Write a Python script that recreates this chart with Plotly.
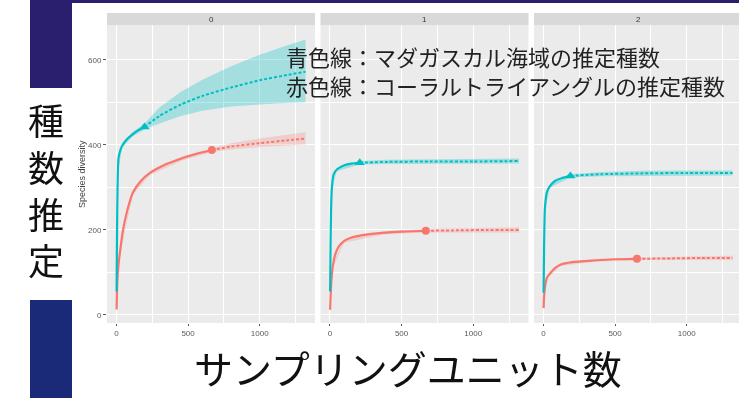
import plotly.graph_objects as go

W, H = 739, 398

# Facet labels (order q = 0, 1, 2)
facet_labels = ["0", "1", "2"]
x_ticks = [0, 500, 1000]
y_ticks = [0, 200, 400, 600]

# ---- Madagascar (cyan) ----
mad_q0_int_t = [1, 3, 6, 10, 15, 25, 40, 70, 110, 150, 196]
mad_q0_int_d = [55, 150, 260, 340, 370, 385, 398, 412, 424, 434, 442]
mad_q0_ext_t = [196, 300, 450, 600, 800, 1000, 1200, 1320]
mad_q0_ext_d = [442, 468, 495, 515, 535, 552, 565, 572]
mad_q0_band_t = [1, 10, 40, 110, 196, 300, 450, 600, 800, 1000, 1200, 1320]
mad_q0_band_lo = [53, 335, 393, 419, 436, 450, 468, 480, 490, 495, 499, 500]
mad_q0_band_hi = [57, 345, 403, 430, 450, 488, 525, 553, 585, 612, 635, 648]

mad_q1_int_t = [1, 4, 8, 14, 25, 48, 100, 150, 208]
mad_q1_int_d = [55, 160, 250, 300, 330, 342, 352, 356, 358]
mad_q1_ext_t = [208, 400, 700, 1000, 1320]
mad_q1_ext_d = [358, 360, 361, 361, 362]
mad_q1_band_t = [1, 14, 48, 208, 400, 700, 1000, 1320]
mad_q1_band_lo = [53, 296, 338, 354, 355, 356, 356, 356]
mad_q1_band_hi = [57, 304, 346, 362, 365, 366, 367, 368]

mad_q2_int_t = [1, 4, 10, 25, 45, 80, 130, 188]
mad_q2_int_d = [52, 150, 250, 290, 303, 315, 322, 327]
mad_q2_ext_t = [188, 400, 700, 1000, 1320]
mad_q2_ext_d = [327, 331, 333, 334, 334]
mad_q2_band_t = [1, 10, 45, 188, 400, 700, 1000, 1320]
mad_q2_band_lo = [50, 246, 299, 323, 326, 327, 328, 328]
mad_q2_band_hi = [54, 254, 307, 331, 336, 339, 340, 340]

# ---- Coral Triangle (red) ----
ct_q0_int_t = [1, 3, 6, 12, 24, 45, 75, 115, 170, 234, 330, 464, 560, 666]
ct_q0_int_d = [13, 45, 78, 110, 146, 198, 245, 288, 315, 334, 352, 369, 379, 388]
ct_q0_ext_t = [666, 800, 1000, 1200, 1320]
ct_q0_ext_d = [388, 396, 404, 411, 415]
ct_q0_band_t = [1, 24, 115, 234, 464, 666, 800, 1000, 1200, 1320]
ct_q0_band_lo = [11, 142, 283, 329, 364, 383, 389, 395, 399, 401]
ct_q0_band_hi = [15, 150, 293, 339, 374, 393, 404, 415, 425, 430]

ct_q1_int_t = [1, 4, 10, 20, 35, 60, 100, 150, 250, 370, 500, 669]
ct_q1_int_d = [12, 40, 80, 115, 140, 160, 174, 182, 189, 193, 196, 198]
ct_q1_ext_t = [669, 900, 1100, 1320]
ct_q1_ext_d = [198, 199, 200, 200]
ct_q1_band_t = [1, 20, 100, 370, 669, 900, 1100, 1320]
ct_q1_band_lo = [10, 111, 170, 189, 194, 194, 194, 194]
ct_q1_band_hi = [14, 119, 178, 197, 202, 204, 205, 206]

ct_q2_int_t = [1, 4, 10, 25, 49, 80, 118, 200, 350, 500, 653]
ct_q2_int_d = [16, 40, 65, 88, 99, 110, 118, 124, 128, 131, 132]
ct_q2_ext_t = [653, 900, 1100, 1320]
ct_q2_ext_d = [132, 133, 134, 134]
ct_q2_band_t = [1, 25, 118, 350, 653, 900, 1100, 1320]
ct_q2_band_lo = [14, 85, 115, 125, 129, 129, 129, 129]
ct_q2_band_hi = [18, 91, 121, 131, 135, 137, 138, 139]

RED = "#F8766D"
CYAN = "#00BFC4"

series = [
    # (panel, colour, fill, marker symbol, int_t, int_d, ext_t, ext_d, band_t, lo, hi)
    (0, RED, "rgba(248,118,109,0.25)", "circle", ct_q0_int_t, ct_q0_int_d, ct_q0_ext_t, ct_q0_ext_d, ct_q0_band_t, ct_q0_band_lo, ct_q0_band_hi),
    (0, CYAN, "rgba(0,191,196,0.3)", "triangle-up", mad_q0_int_t, mad_q0_int_d, mad_q0_ext_t, mad_q0_ext_d, mad_q0_band_t, mad_q0_band_lo, mad_q0_band_hi),
    (1, RED, "rgba(248,118,109,0.25)", "circle", ct_q1_int_t, ct_q1_int_d, ct_q1_ext_t, ct_q1_ext_d, ct_q1_band_t, ct_q1_band_lo, ct_q1_band_hi),
    (1, CYAN, "rgba(0,191,196,0.3)", "triangle-up", mad_q1_int_t, mad_q1_int_d, mad_q1_ext_t, mad_q1_ext_d, mad_q1_band_t, mad_q1_band_lo, mad_q1_band_hi),
    (2, RED, "rgba(248,118,109,0.25)", "circle", ct_q2_int_t, ct_q2_int_d, ct_q2_ext_t, ct_q2_ext_d, ct_q2_band_t, ct_q2_band_lo, ct_q2_band_hi),
    (2, CYAN, "rgba(0,191,196,0.3)", "triangle-up", mad_q2_int_t, mad_q2_int_d, mad_q2_ext_t, mad_q2_ext_d, mad_q2_band_t, mad_q2_band_lo, mad_q2_band_hi),
]


def fx(px):
    return px / W


def fy(py):
    return 1 - py / H


fig = go.Figure()

# facet panels in pixel coordinates (left, right), shared vertical extent
panel_px = [(107, 315), (320.5, 528.5), (534, 739)]
panel_top, panel_bottom = 25, 323
strip_top = 13
x_ranges = [[-66, 1386], [-66, 1386], [-66, 1365]]
y_range = [-19, 682]

for p, col, fill, sym, it, idd, et, ed, bt, lo, hi in series:
    xa = "x" if p == 0 else f"x{p + 1}"
    ya = "y" if p == 0 else f"y{p + 1}"
    fig.add_trace(go.Scatter(
        x=list(bt) + list(bt)[::-1], y=list(hi) + list(lo)[::-1],
        fill="toself", fillcolor=fill, line=dict(width=0),
        mode="lines", hoverinfo="skip", showlegend=False, xaxis=xa, yaxis=ya))
for p, col, fill, sym, it, idd, et, ed, bt, lo, hi in series:
    xa = "x" if p == 0 else f"x{p + 1}"
    ya = "y" if p == 0 else f"y{p + 1}"
    fig.add_trace(go.Scatter(
        x=et, y=ed, mode="lines", line=dict(color=col, width=2, dash="3px,2px", shape="spline", smoothing=0.6),
        showlegend=False, xaxis=xa, yaxis=ya))
    fig.add_trace(go.Scatter(
        x=it, y=idd, mode="lines", line=dict(color=col, width=2.2, shape="spline", smoothing=0.5),
        showlegend=False, xaxis=xa, yaxis=ya))
    fig.add_trace(go.Scatter(
        x=[it[-1]], y=[idd[-1]], mode="markers",
        marker=dict(color=col, size=9 if sym == "triangle-up" else 8, symbol=sym),
        showlegend=False, xaxis=xa, yaxis=ya))

tick_font = dict(family="Liberation Sans, Arial", size=8, color="#5A5A5A")
layout = dict(
    width=W, height=H, autosize=False,
    margin=dict(l=0, r=0, t=0, b=0),
    paper_bgcolor="white", plot_bgcolor="#EBEBEB",
    showlegend=False,
)
for i, (l, r) in enumerate(panel_px):
    sx = "" if i == 0 else str(i + 1)
    layout["xaxis" + sx] = dict(
        domain=[fx(l), fx(r)], range=x_ranges[i], anchor="y" + sx,
        tickvals=x_ticks, ticktext=[str(v) for v in x_ticks],
        ticks="outside", ticklen=2, tickcolor="#5A5A5A", tickfont=tick_font,
        showgrid=True, gridcolor="white", gridwidth=1.2, zeroline=False, showline=False,
        minor=dict(tick0=250, dtick=500, showgrid=True, gridcolor="white", gridwidth=0.6, ticks=""),
    )
    layout["yaxis" + sx] = dict(
        domain=[fy(panel_bottom), fy(panel_top)], range=y_range, anchor="x" + sx,
        tickvals=y_ticks, ticktext=[str(v) for v in y_ticks],
        showticklabels=(i == 0), ticks="outside" if i == 0 else "", ticklen=3,
        tickcolor="#5A5A5A", tickfont=tick_font,
        showgrid=True, gridcolor="white", gridwidth=1.2, zeroline=False, showline=False,
        minor=dict(tick0=100, dtick=200, showgrid=True, gridcolor="white", gridwidth=0.6, ticks=""),
    )
fig.update_layout(**layout)

shapes = [
    # slide decoration
    dict(type="rect", xref="paper", yref="paper", x0=fx(30), x1=fx(72), y0=fy(88), y1=1,
         fillcolor="#2A1F6E", line=dict(width=0), layer="below"),
    dict(type="rect", xref="paper", yref="paper", x0=fx(72), x1=1, y0=fy(3), y1=1,
         fillcolor="#2A1F6E", line=dict(width=0), layer="below"),
    dict(type="rect", xref="paper", yref="paper", x0=fx(30), x1=fx(72), y0=0, y1=fy(300),
         fillcolor="#1B2A78", line=dict(width=0), layer="below"),
]
annotations = []
for i, (l, r) in enumerate(panel_px):
    shapes.append(dict(type="rect", xref="paper", yref="paper", x0=fx(l), x1=fx(r),
                       y0=fy(panel_top), y1=fy(strip_top), fillcolor="#D9D9D9",
                       line=dict(width=0), layer="below"))
    cx = (l + r) / 2 if i < 2 else (l + l + 208) / 2
    annotations.append(dict(text=facet_labels[i], xref="paper", yref="paper", x=fx(cx), y=fy(19.5),
                            showarrow=False, xanchor="center", yanchor="middle",
                            font=dict(family="Liberation Sans, Arial", size=8, color="#333333")))

annotations.append(dict(text="Species diversity", xref="paper", yref="paper", x=fx(82), y=fy(174),
                        textangle=-90, showarrow=False, xanchor="center", yanchor="middle",
                        font=dict(family="Liberation Sans, Arial", size=9, color="#444444")))

jp = "Noto Sans CJK JP"
# vertical y-axis caption, one character per line
annotations.append(dict(text="<br>".join("種数推定"), xref="paper", yref="paper", x=fx(46), y=fy(189),
                        showarrow=False, xanchor="center", yanchor="middle", align="center",
                        font=dict(family=jp, size=36, color="#111111")))
annotations.append(dict(text="サンプリングユニット数", xref="paper", yref="paper", x=fx(408), y=fy(367),
                        showarrow=False, xanchor="center", yanchor="middle", borderpad=0,
                        font=dict(family=jp, size=39, color="#111111")))
annotations.append(dict(text="青色線：マダガスカル海域の推定種数<br>赤色線：コーラルトライアングルの推定種数",
                        xref="paper", yref="paper", x=fx(284), y=fy(70.5), showarrow=False,
                        xanchor="left", yanchor="middle", align="left",
                        font=dict(family=jp, size=22, color="#222222")))

fig.update_layout(shapes=shapes, annotations=annotations)

soften = """
var svg = document.querySelector('.main-svg');
if (svg) {
  var ns = 'http://www.w3.org/2000/svg';
  var defs = svg.querySelector('defs');
  if (!defs) { defs = document.createElementNS(ns, 'defs'); svg.insertBefore(defs, svg.firstChild); }
  var f = document.createElementNS(ns, 'filter');
  f.setAttribute('id', 'soften');
  var g = document.createElementNS(ns, 'feGaussianBlur');
  g.setAttribute('stdDeviation', '0.5');
  f.appendChild(g); defs.appendChild(f);
  svg.querySelectorAll('.cartesianlayer').forEach(function (e) { e.setAttribute('filter', 'url(#soften)'); });
}
"""
fig.write_html("out.html", post_script=soften)
